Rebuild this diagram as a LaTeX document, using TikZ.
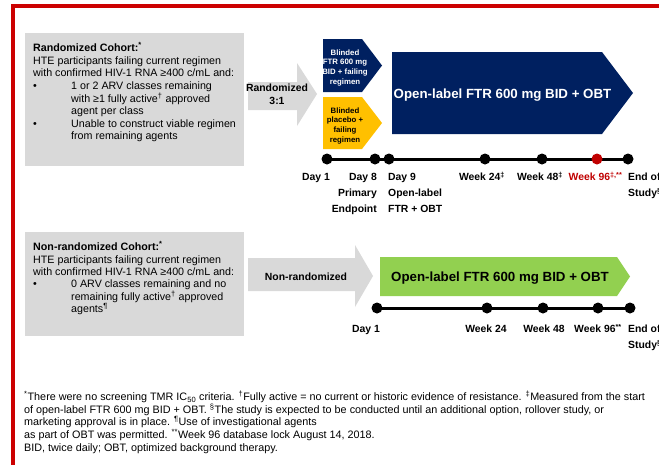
\documentclass[tikz,border=0pt]{standalone}
\usepackage{fontspec}
\setmainfont{Liberation Sans}
\definecolor{frame}{RGB}{204,0,0}
\definecolor{boxgray}{RGB}{217,217,217}
\definecolor{navy}{RGB}{0,32,96}
\definecolor{gold}{RGB}{255,192,0}
\definecolor{lime}{RGB}{146,208,80}
\definecolor{wkred}{RGB}{192,0,0}
\tikzset{
  boxtxt/.style={inner sep=0pt, anchor=base west, font=\fontsize{10.7}{12.5}\selectfont},
  boxtitle/.style={boxtxt, font=\fontsize{10.7}{12.5}\selectfont\bfseries},
  tltxt/.style={inner sep=0pt, font=\fontsize{10.4}{16}\selectfont\bfseries},
  smalltxt/.style={inner sep=0pt, anchor=base, font=\fontsize{7.8}{9.7}\selectfont\bfseries},
  bigtxt/.style={inner sep=0pt, anchor=base, font=\fontsize{13.3}{15}\selectfont\bfseries},
  fntxt/.style={inner sep=0pt, anchor=base west, font=\fontsize{10.8}{12.7}\selectfont},
  dot/.style={circle, inner sep=0pt, minimum size=11pt},
  tline/.style={line width=3pt},
}
\newcommand{\bul}{\makebox[38pt][l]{\textbullet}}
\newcommand{\ind}{\hspace*{38pt}}
\begin{document}
\begin{tikzpicture}[x=1pt,y=-1pt]
\useasboundingbox (0,0) rectangle (659,464);
\clip (0,0) rectangle (659,464);
\fill[white] (0,0) rectangle (659,464);
% frame
\draw[frame, line width=4pt] (13,466) -- (13,6) -- (661,6);

% ---------- randomized cohort box
\fill[boxgray] (25,33) rectangle (244,166);
\node[boxtitle] (t1) at (33,51.7) {Randomized Cohort:\textsuperscript{*}};
\node[boxtxt] (t2) at (33,64.3) {HTE participants failing current regimen};
\node[boxtxt] (t3) at (33,76.9) {with confirmed HIV-1 RNA ≥400 c/mL and:};
\node[boxtxt] (t4) at (33,89.5) {\bul 1 or 2 ARV classes remaining};
\node[boxtxt] (t5) at (33,102.1) {\ind with ≥1 fully active\textsuperscript{†} approved};
\node[boxtxt] (t6) at (33,114.7) {\ind agent per class};
\node[boxtxt] (t7) at (33,127.3) {\bul Unable to construct viable regimen};
\node[boxtxt] (t8) at (33,139.9) {\ind from remaining agents};

% randomized arrow
\fill[boxgray] (248,82) -- (297,82) -- (297,63) -- (317,94) -- (297,126) -- (297,110) -- (248,110) -- cycle;
\node[tltxt, anchor=base] (r1) at (277,91.5) {Randomized};
\node[tltxt, anchor=base] (r2) at (277,104) {3:1};

% blinded arms
\fill[navy] (323,39) -- (362,39) -- (382,65.5) -- (362,92) -- (323,92) -- cycle;
\node[smalltxt, text=white] (b1) at (345,55) {Blinded};
\node[smalltxt, text=white] (b2) at (345,64.7) {FTR 600 mg};
\node[smalltxt, text=white] (b3) at (345,74.4) {BID + failing};
\node[smalltxt, text=white] (b4) at (345,84.1) {regimen};
\fill[gold] (323,97) -- (362,97) -- (382,123) -- (362,149) -- (323,149) -- cycle;
\node[smalltxt] (y1) at (345,113) {Blinded};
\node[smalltxt] (y2) at (345,122.7) {placebo +};
\node[smalltxt] (y3) at (345,132.4) {failing};
\node[smalltxt] (y4) at (345,142.1) {regimen};

% open-label navy
\fill[navy] (392,52) -- (602,52) -- (633,93) -- (602,134) -- (392,134) -- cycle;
\node[bigtxt, text=white] (ol1) at (502.5,98.5) {Open-label FTR 600 mg BID + OBT};

% timeline 1
\node[dot] (a1) at (327,159) {};
\node[dot] (a2) at (375,159) {};
\node[dot] (a3) at (389,159) {};
\node[dot] (a4) at (485,159) {};
\node[dot] (a5) at (542,159) {};
\node[dot] (a6) at (597,159) {};
\node[dot] (a7) at (628,159) {};
\draw[tline] (a1.center) -- (a7.center);
\foreach \n in {a1,a2,a3,a4,a5,a7} \fill (\n.center) circle (5.5pt);
\fill[wkred] (a6.center) circle (5.5pt);

\node[tltxt, anchor=base east] (l1) at (330,180.7) {Day 1};
\node[tltxt, anchor=base east] (l2) at (377,180.7) {Day 8};
\node[tltxt, anchor=base east] (l2b) at (377,196.7) {Primary};
\node[tltxt, anchor=base east] (l2c) at (377,212.7) {Endpoint};
\node[tltxt, anchor=base west] (l3) at (388,180.7) {Day 9};
\node[tltxt, anchor=base west] (l3b) at (388,196.7) {Open-label};
\node[tltxt, anchor=base west] (l3c) at (388,212.7) {FTR + OBT};
\node[tltxt, anchor=base] (l4) at (482,180.7) {Week 24\textsuperscript{‡}};
\node[tltxt, anchor=base] (l5) at (540,180.7) {Week 48\textsuperscript{‡}};
\node[tltxt, anchor=base, text=wkred] (l6) at (595.5,180.7) {Week 96\textsuperscript{‡,**}};
\node[tltxt, anchor=base west] (l7) at (628,180.7) {End of};
\node[tltxt, anchor=base west] (l7b) at (628,196.7) {Study\textsuperscript{§}};

% ---------- non-randomized cohort box
\fill[boxgray] (25,232) rectangle (244,336);
\node[boxtitle] (n1) at (33,250.7) {Non-randomized Cohort:\textsuperscript{*}};
\node[boxtxt] (n2) at (33,263.1) {HTE participants failing current regimen};
\node[boxtxt] (n3) at (33,275.5) {with confirmed HIV-1 RNA ≥400 c/mL and:};
\node[boxtxt] (n4) at (33,287.9) {\bul 0 ARV classes remaining and no};
\node[boxtxt] (n5) at (33,300.3) {\ind remaining fully active\textsuperscript{†} approved};
\node[boxtxt] (n6) at (33,312.7) {\ind agents\textsuperscript{¶}};

% non-randomized arrow
\fill[boxgray] (248,258) -- (355,258) -- (355,245) -- (373,276) -- (355,307) -- (355,291) -- (248,291) -- cycle;
\node[tltxt, anchor=base] (nr) at (306,280) {Non-randomized};

% green arm
\fill[lime] (380,257) -- (617,257) -- (630,276.5) -- (617,296) -- (380,296) -- cycle;
\node[bigtxt] (ol2) at (500,281.5) {Open-label FTR 600 mg BID + OBT};

% timeline 2
\node[dot] (c1) at (377,308) {};
\node[dot] (c2) at (487,308) {};
\node[dot] (c3) at (543,308) {};
\node[dot] (c4) at (598,308) {};
\node[dot] (c5) at (630,308) {};
\draw[tline] (c1.center) -- (c5.center);
\foreach \n in {c1,c2,c3,c4,c5} \fill (\n.center) circle (5.5pt);

\node[tltxt, anchor=base east] (m1) at (380,332.7) {Day 1};
\node[tltxt, anchor=base] (m2) at (486,332.7) {Week 24};
\node[tltxt, anchor=base] (m3) at (544,332.7) {Week 48};
\node[tltxt, anchor=base] (m4) at (598,332.7) {Week 96\textsuperscript{**}};
\node[tltxt, anchor=base west] (m5) at (628,332.7) {End of};
\node[tltxt, anchor=base west] (m5b) at (628,348.7) {Study\textsuperscript{§}};

% footnotes
\node[fntxt] (f1) at (24,400.5) {\textsuperscript{*}There were no screening TMR IC\textsubscript{50} criteria. \textsuperscript{†}Fully active = no current or historic evidence of resistance. \textsuperscript{‡}Measured from the start};
\node[fntxt] (f2) at (24,413.2) {of open-label FTR 600 mg BID + OBT. \textsuperscript{§}The study is expected to be conducted until an additional option, rollover study, or};
\node[fntxt] (f3) at (24,425.9) {marketing approval is in place. \textsuperscript{¶}Use of investigational agents};
\node[fntxt] (f4) at (24,438.6) {as part of OBT was permitted. \textsuperscript{**}Week 96 database lock August 14, 2018.};
\node[fntxt] (f5) at (24,451.3) {BID, twice daily; OBT, optimized background therapy.};
\end{tikzpicture}
\end{document}
